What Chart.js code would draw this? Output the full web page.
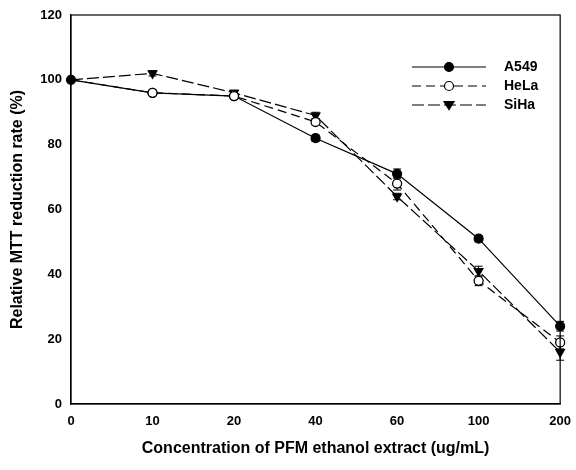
<!DOCTYPE html>
<html><head><meta charset="utf-8">
<script src="https://cdn.jsdelivr.net/npm/chart.js@4/dist/chart.umd.min.js"></script>
<style>html,body{margin:0;padding:0;background:#fff}#wrap{width:576px;height:470px;position:relative}</style>
</head><body><div id="wrap"><canvas id="c"></canvas></div>
<script>
const categories = ['0','10','20','40','60','100','200'];
const seriesNames = ['A549','HeLa','SiHa'];
const a549 = [100, 96, 95, 82, 71, 51, 24];
const hela = [100, 96, 95, 87, 68, 38, 19];
const siha = [100, 102, 96, 89, 64, 41, 16];
const a549Err = [0, 0.5, 0.8, 1, 1.5, 1, 1.5];
const helaErr = [0, 0.8, 0.8, 1, 2, 1.5, 2];
const sihaErr = [0, 0.8, 0.8, 1, 1, 1.5, 2.5];
const yTicks = [0, 20, 40, 60, 80, 100, 120];

const FONT = '"Liberation Sans", Arial, sans-serif';

const framePlugin = {
  id: 'frame',
  afterDatasetsDraw(chart) {
    const {ctx, chartArea: a} = chart;
    ctx.save();
    ctx.strokeStyle = '#000'; ctx.lineWidth = 1.2;
    ctx.strokeRect(a.left, a.top, a.right - a.left, a.bottom - a.top);
    ctx.restore();
  }
};

const errPlugin = {
  id: 'errbars',
  beforeDatasetsDraw(chart) {
    const {ctx} = chart;
    const y = chart.scales.y;
    ctx.save();
    ctx.strokeStyle = '#000'; ctx.lineWidth = 1;
    chart.data.datasets.forEach((ds, i) => {
      const meta = chart.getDatasetMeta(i);
      meta.data.forEach((pt, j) => {
        const e = ds.err[j]; if (!e) return;
        const y1 = y.getPixelForValue(ds.data[j] + e), y2 = y.getPixelForValue(ds.data[j] - e);
        ctx.beginPath();
        ctx.moveTo(pt.x, y1); ctx.lineTo(pt.x, y2);
        ctx.moveTo(pt.x - 4, y1); ctx.lineTo(pt.x + 4, y1);
        ctx.moveTo(pt.x - 4, y2); ctx.lineTo(pt.x + 4, y2);
        ctx.stroke();
      });
    });
    ctx.restore();
  }
};

const legendPlugin = {
  id: 'customLegend',
  afterDraw(chart) {
    const {ctx} = chart;
    ctx.save();
    const x0 = 412, x1 = 486, xm = 449, tx = 504;
    const rows = [67, 86, 105];
    chart.data.datasets.forEach((ds, i) => {
      const yy = rows[i];
      ctx.strokeStyle = '#000'; ctx.lineWidth = 1.2;
      ctx.setLineDash(ds.borderDash || []);
      ctx.beginPath(); ctx.moveTo(x0, yy); ctx.lineTo(x1, yy); ctx.stroke();
      ctx.setLineDash([]);
      ctx.fillStyle = ds.legendFill;
      ctx.beginPath();
      if (ds.pointStyle === 'triangle') {
        const r = 5;
        ctx.moveTo(xm - r, yy - r * 0.7); ctx.lineTo(xm + r, yy - r * 0.7); ctx.lineTo(xm, yy + r * 0.9); ctx.closePath();
      } else {
        ctx.arc(xm, yy, 4.5, 0, Math.PI * 2);
      }
      ctx.fill(); ctx.stroke();
      ctx.fillStyle = '#000';
      ctx.font = 'bold 14px ' + FONT;
      ctx.textBaseline = 'middle';
      ctx.fillText(ds.label, tx, yy);
    });
    ctx.restore();
  }
};

new Chart(document.getElementById('c'), {
  type: 'line',
  data: {
    labels: categories,
    datasets: [
      { label: seriesNames[0], data: a549, err: a549Err, borderColor: '#000', borderWidth: 1.2, legendFill: '#000',
        pointStyle: 'circle', pointRadius: 4.5, pointBackgroundColor: '#000', pointBorderColor: '#000',
        tension: 0, order: 3 },
      { label: seriesNames[1], data: hela, err: helaErr, borderColor: '#000', borderWidth: 1.2, borderDash: [9, 5], legendFill: '#fff',
        pointStyle: 'circle', pointRadius: [0, 4.5, 4.5, 4.5, 4.5, 4.5, 4.5], pointBackgroundColor: '#fff', pointBorderColor: '#000', pointBorderWidth: 1.3,
        tension: 0, order: 1 },
      { label: seriesNames[2], data: siha, err: sihaErr, borderColor: '#000', borderWidth: 1.2, borderDash: [12, 4], legendFill: '#000',
        pointStyle: 'triangle', rotation: 180, pointRadius: [0, 5, 5, 5, 5, 5, 5], pointBackgroundColor: '#000', pointBorderColor: '#000',
        tension: 0, order: 2 }
    ]
  },
  options: {
    responsive: true, maintainAspectRatio: false, animation: false,
    layout: { padding: { left: 0, right: 2, top: 15, bottom: 0 } },
    plugins: { legend: { display: false }, tooltip: { enabled: false } },
    scales: {
      x: {
        type: 'category', offset: false,
        grid: { display: false, drawTicks: true, tickLength: 5 },
        border: { display: true, color: '#000', width: 1.2 },
        ticks: { color: '#000', font: { family: FONT, size: 13, weight: 'bold' }, padding: 5, maxRotation: 0 },
        title: { display: true, text: 'Concentration of PFM ethanol extract (ug/mL)', color: '#000',
                 font: { family: FONT, size: 16, weight: 'bold' }, padding: { top: 6, bottom: 12 } },
        afterFit(s) { s.height = 66; }
      },
      y: {
        min: 0, max: 120,
        afterBuildTicks(s) { s.ticks = yTicks.map(v => ({ value: v })); },
        grid: { display: false, drawTicks: true, tickLength: 5 },
        border: { display: true, color: '#000', width: 1.2 },
        ticks: { color: '#000', font: { family: FONT, size: 13, weight: 'bold' }, padding: 4 },
        title: { display: true, text: 'Relative MTT reduction rate (%)', color: '#000',
                 font: { family: FONT, size: 16, weight: 'bold' }, padding: { top: 8, bottom: 4 } },
        afterFit(s) { s.width = 71; }
      }
    }
  },
  plugins: [errPlugin, framePlugin, legendPlugin]
});
</script></body></html>
